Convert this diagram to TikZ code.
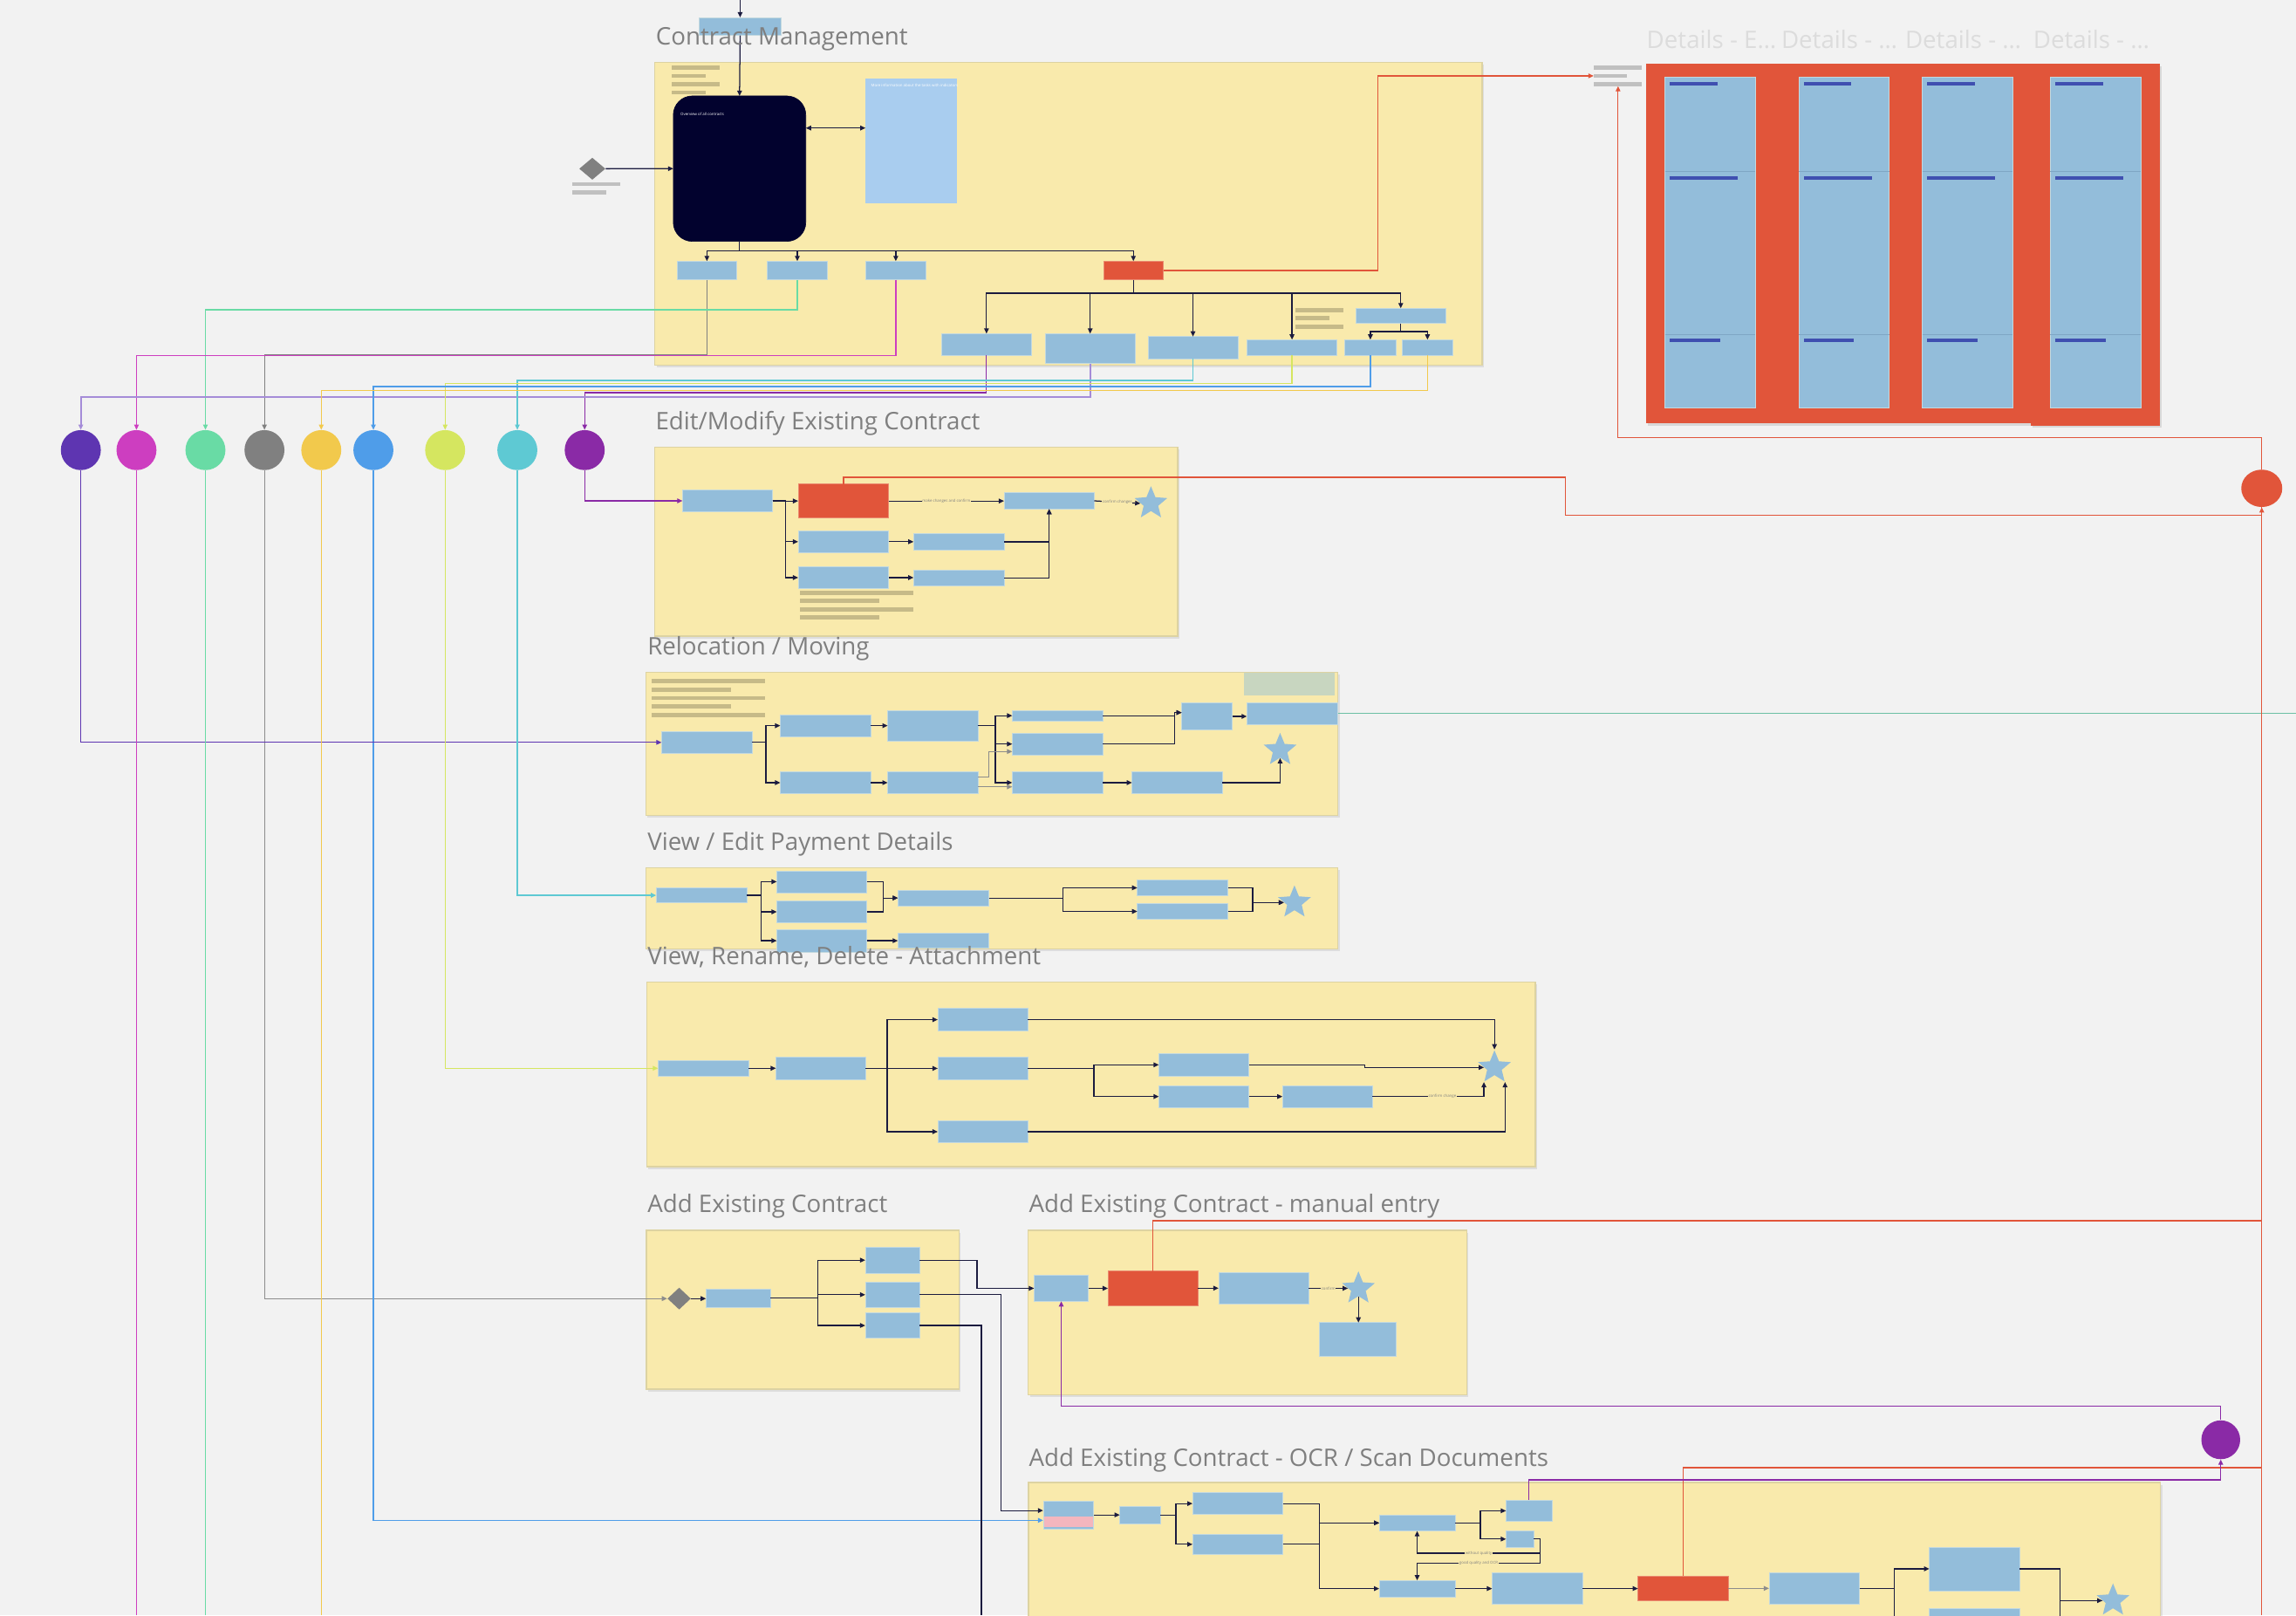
\documentclass[tikz,border=0pt]{standalone}
\usepackage{fontspec}
\setmainfont{Open Sans}
\usetikzlibrary{shapes.geometric,arrows.meta,shadows,calc}
\definecolor{bgc}{HTML}{F2F2F2}
\definecolor{frY}{HTML}{F9EAAC}
\definecolor{frE}{HTML}{DDD3A2}
\definecolor{boxB}{HTML}{93BDDA}
\definecolor{boxE}{HTML}{C3D9DF}
\definecolor{redB}{HTML}{E1553A}
\definecolor{redE}{HTML}{EA8A70}
\definecolor{darkB}{HTML}{02022E}
\definecolor{noteB}{HTML}{A9CDEF}
\definecolor{oliveC}{HTML}{C6BA88}
\definecolor{grayBar}{HTML}{C0C0C0}
\definecolor{lnD}{HTML}{1B1B3F}
\definecolor{cA}{HTML}{5E35B1}
\definecolor{cAl}{HTML}{A58CD8}
\definecolor{cB}{HTML}{CD3EC0}
\definecolor{cC}{HTML}{69DBA5}
\definecolor{cD}{HTML}{808080}
\definecolor{cE}{HTML}{F2C94C}
\definecolor{cF}{HTML}{4F9DE9}
\definecolor{cG}{HTML}{D5E660}
\definecolor{cH}{HTML}{5EC9D3}
\definecolor{cI}{HTML}{8A2AA6}
\definecolor{tealL}{HTML}{6CBFA4}
\definecolor{dtl}{HTML}{DCDCDC}
\definecolor{ttlC}{HTML}{7F7F7F}
\definecolor{hdr}{HTML}{3F4FB0}
\definecolor{noteG}{HTML}{C8D6C0}
\definecolor{pinkB}{HTML}{F4B6BE}
\definecolor{gline}{HTML}{8C8C8C}
\definecolor{divL}{HTML}{7FA6C4}
\newcommand\bx[6]{%
\pgfmathsetmacro\bxcx{(#2+#4)/2}%
\pgfmathsetmacro\bxcy{(#3+#5)/2}%
\pgfmathsetmacro\bxw{#4-#2}%
\pgfmathsetmacro\bxh{#5-#3}%
\node[#6,minimum width=\bxw pt,minimum height=\bxh pt] (#1) at (\bxcx,\bxcy) {};}
\begin{document}
\begin{tikzpicture}[x=1pt,y=-1pt,
 box/.style={rectangle,inner sep=0pt,outer sep=0pt,fill=boxB,draw=boxE,line width=0.35pt},
 rbox/.style={box,fill=redB,draw=redE},
 frm/.style={rectangle,inner sep=0pt,outer sep=0pt,fill=frY,draw=frE,line width=0.9pt,drop shadow={shadow xshift=1.2pt,shadow yshift=-1.6pt,opacity=0.18}},
 dpan/.style={rectangle,inner sep=0pt,outer sep=0pt,fill=redB,draw=none,drop shadow={shadow xshift=1.2pt,shadow yshift=-1.6pt,opacity=0.22}},
 olive/.style={rectangle,inner sep=0pt,outer sep=0pt,fill=oliveC,draw=none},
 gbar/.style={rectangle,inner sep=0pt,outer sep=0pt,fill=grayBar,draw=none},
 hbar/.style={rectangle,inner sep=0pt,outer sep=0pt,fill=hdr,draw=none},
 ln/.style={draw=lnD,line width=0.75pt},
 arr/.style={ln,-{Triangle[length=3.6pt,width=3.2pt]}},
 garr/.style={draw=gline,line width=0.75pt,-{Triangle[length=3.6pt,width=3.2pt]}},
 darr/.style={ln,{Triangle[length=3.6pt,width=3.2pt]}-{Triangle[length=3.6pt,width=3.2pt]}},
 carr/.style={draw=#1,line width=0.75pt,-{Triangle[length=3.6pt,width=3.2pt]}},
 cln/.style={draw=#1,line width=0.75pt},
 circ/.style={circle,minimum size=27.3pt,inner sep=0pt,draw=none,fill=#1},
 strs/.style={star,star points=5,star point ratio=2.25,minimum size=23.5pt,inner sep=0pt,fill=boxB,draw=none},
 dia/.style={diamond,inner sep=0pt,fill=cD,draw=none},
 ttl/.style={font=\fontsize{16.5}{18}\selectfont,text=ttlC,anchor=west,inner sep=0pt},
 dttl/.style={font=\fontsize{16.5}{18}\selectfont,text=dtl,anchor=west,inner sep=0pt},
 lbl/.style={font=\fontsize{2.6}{3}\selectfont,text=ttlC,fill=frY,inner sep=0.4pt},
 wtxt/.style={font=\fontsize{2.6}{3}\selectfont,text=white,anchor=north west,inner sep=0pt}
]
\fill[bgc] (0,0) rectangle (1568,1103);
\useasboundingbox (0,0) rectangle (1568,1103);

% ---------------- frames ----------------
\bx{fr1}{447.2}{42.7}{1012.3}{249.2}{frm}
\bx{fr2}{447.2}{305.2}{804.2}{434.3}{frm}
\bx{fr3}{441.1}{459.1}{913.6}{556.8}{frm}
\bx{fr4}{441.1}{592.6}{913.6}{647.8}{frm}
\bx{fr5}{441.6}{670.4}{1048.6}{796.5}{frm}
\bx{fr6}{441.4}{840}{655}{948.4}{frm}
\bx{fr7}{702.2}{840}{1001.6}{952.2}{frm}
\bx{fr8}{702.5}{1012.3}{1475.4}{1125}{frm}

% ---------------- details panels ----------------
\bx{dp1}{1124.4}{43.5}{1216.3}{289}{dpan}
\bx{dp2}{1216.3}{43.5}{1300.2}{289}{dpan}
\bx{dp3}{1300.2}{43.5}{1387.1}{289}{dpan}
\bx{dp4}{1387.1}{43.5}{1475.3}{290.5}{dpan}
\bx{db1}{1137}{52.4}{1198.6}{278.2}{box}
\bx{db2}{1228.4}{52.4}{1290.1}{278.2}{box}
\bx{db3}{1312.8}{52.4}{1374.5}{278.2}{box}
\bx{db4}{1400.2}{52.4}{1461.9}{278.2}{box}
\foreach \nm in {db1,db2,db3,db4}{
  \draw[divL,line width=0.4pt] (\nm.west |- 0,116.8) -- (\nm.east |- 0,116.8);
  \draw[divL,line width=0.4pt] (\nm.west |- 0,228.2) -- (\nm.east |- 0,228.2);
  \fill[hdr] ([xshift=3.3pt]\nm.west |- 0,56) rectangle ++(32.7,2.6);
  \fill[hdr] ([xshift=3.3pt]\nm.west |- 0,120.3) rectangle ++(46.6,2.6);
  \fill[hdr] ([xshift=3.3pt]\nm.west |- 0,231) rectangle ++(34.5,2.6);
}
\bx{gb1}{1088.3}{44.9}{1121.1}{47.5}{gbar}
\bx{gb2}{1088.3}{50.4}{1111.3}{53.2}{gbar}
\bx{gb3}{1088.3}{56.2}{1121.1}{58.8}{gbar}

% ---------------- frame 1 ----------------
\bx{T0}{477.4}{11.9}{533.5}{24.2}{box}
\coordinate (top0) at (505.45,0);
\bx{dark}{459.8}{65.5}{550.3}{164.8}{box,fill=darkB,draw=darkB,rounded corners=13pt}
\bx{note}{591.1}{54}{653}{138.6}{box,fill=noteB,draw=noteB}
\node[wtxt] at (464.6,76.5) {Overview of all contracts};
\node[wtxt] at (594.7,57.3) {More information about the tasks with indicators};
\foreach \yy/\xx in {44.7/491.4,50.4/481.8,56/491.4,61.8/481.8}{
  \fill[oliveC] (458.7,\yy) rectangle (\xx,\yy+2.8);
}
\node[dia,minimum width=17.9pt,minimum height=15.1pt] (D0) at (404.5,115.2) {};
\bx{gl1}{390.8}{124.3}{423.6}{127.1}{gbar}
\bx{gl2}{390.8}{130.1}{413.8}{132.8}{gbar}
\bx{A}{462.4}{178.3}{503.1}{191}{box}
\bx{B}{524}{178.3}{565}{191}{box}
\bx{C}{591.4}{178.3}{632.1}{191}{box}
\bx{D}{753.5}{178.3}{794.5}{191}{rbox}
\bx{E}{643.1}{227.8}{704.3}{242.7}{box}
\bx{F}{713.9}{227.8}{775.1}{248.2}{box}
\bx{G}{783.9}{229.8}{845.5}{244.8}{box}
\bx{H}{851.7}{231.9}{913}{242.7}{box}
\bx{I}{925.8}{210.5}{987.4}{220.8}{box}
\bx{J}{918.4}{231.9}{953.3}{242.7}{box}
\bx{K}{957.6}{231.9}{992.1}{242.7}{box}
\foreach \yy/\xx in {210.3/917.7,215.9/907.8,221.6/917.7}{
  \fill[oliveC] (884.7,\yy) rectangle (\xx,\yy+2.7);
}

\draw[arr] (top0) -- (T0.north);
\draw[arr] (T0.south) -- (dark.north);
\draw[arr] (D0.east) -- (dark.west);
\draw[darr] ([yshift=27.75pt]dark.east) -- ([yshift=27.75pt]dark.east -| note.west);
\draw[ln] (dark.south) -- ++(0,6.4) coordinate (j1);
\foreach \nm in {A,B,C,D}{ \draw[arr] (j1) -| (\nm.north); }
\draw[ln] (D.south) -- ++(0,9.2) coordinate (j2);
\foreach \nm in {E,F,G,H,I}{ \draw[arr] (j2) -| (\nm.north); }
\draw[ln] (I.south) -- ++(0,5.6) coordinate (j3);
\draw[arr] (j3) -| (J.north);
\draw[arr] (j3) -| (K.north);
\draw[draw=redB,line width=0.75pt,-{Triangle[length=3.6pt,width=3.2pt]}] (D.east) -| ([xshift=-147.5pt]gb2.west) -- (gb2.west);

% ---------------- circles ----------------
\node[circ=cA] (C1) at (55.2,307.3) {};
\node[circ=cB] (C2) at (93.2,307.3) {};
\node[circ=cC] (C3) at (140.3,307.3) {};
\node[circ=cD] (C4) at (180.6,307.3) {};
\node[circ=cE] (C5) at (219.4,307.3) {};
\node[circ=cF] (C6) at (255,307.3) {};
\node[circ=cG] (C7) at (304,307.3) {};
\node[circ=cH] (C8) at (353.3,307.3) {};
\node[circ=cI] (C9) at (399.3,307.3) {};
\node[ellipse,minimum width=28pt,minimum height=25.5pt,inner sep=0pt,fill=redB] (RC) at (1544.6,333.4) {};
\node[circle,minimum size=26.5pt,inner sep=0pt,fill=cI] (PC) at (1516.6,983) {};

\draw[carr=cD] (A.south) |- (180.6,242) -- (C4.north);
\draw[carr=cC] (B.south) |- (140.3,211.5) -- (C3.north);
\draw[carr=cB] (C.south) |- (93.2,242.7) -- (C2.north);
\draw[carr=cI] (E.south) |- (399.3,268.1) -- (C9.north);
\draw[draw=cAl,line width=1.2pt,-{Triangle[length=3.6pt,width=3.2pt]}] (F.south) |- (55.2,271.1) -- (C1.north);
\draw[carr=cH] (G.south) |- (353.3,259.7) -- (C8.north);
\draw[carr=cG] (H.south) |- (304,261.7) -- (C7.north);
\draw[carr=cF] (J.south) |- (255,263.9) -- (C6.north);
\draw[carr=cE] (K.south) |- (219.4,266.7) -- (C5.north);

% ---------------- frame 2: edit/modify ----------------
\bx{EE}{466.1}{334.4}{527.6}{349.5}{box}
\bx{ER}{545.1}{330.4}{606.9}{353.7}{rbox}
\bx{EB2}{545.1}{362.4}{606.9}{377.3}{box}
\bx{EB3}{545.1}{386.8}{606.9}{401.9}{box}
\bx{E4}{623.9}{364.4}{685.7}{375.5}{box}
\bx{E5}{623.9}{389}{685.7}{400.1}{box}
\bx{E6}{685.7}{336.4}{747.3}{347.5}{box}
\node[strs] (ES) at (786,343.7) {};
\foreach \yy/\xx in {403.3/623.9,408.9/600.5,414.6/623.9,420.2/600.5}{
  \fill[oliveC] (546.3,\yy) rectangle (\xx,\yy+3);
}
\draw[arr] (EE.east) -- ++(8.8,0) |- (ER.west);
\draw[arr] (EE.east) -- ++(8.8,0) |- (EB2.west);
\draw[arr] (EE.east) -- ++(8.8,0) |- (EB3.west);
\draw[arr] (ER.east) -- (ER.east -| E6.west) node[midway,lbl] {make changes and confirm};
\draw[arr] (EB2.east) -- (EB2.east -| E4.west);
\draw[arr] (EB3.east) -- (EB3.east -| E5.west);
\draw[arr] (E4.east) -| (E6.south);
\draw[arr] (E5.east) -| (E6.south);
\draw[arr] (E6.east) -- (ES.west) node[midway,lbl] {confirm changes};

% ---------------- frame 3: relocation ----------------
\foreach \yy/\xx in {463.7/522.3,469.4/499.3,475.2/522.3,480.9/499.3,486.7/522.3}{
  \fill[oliveC] (445.1,\yy) rectangle (\xx,\yy+2.8);
}
\bx{RN}{849.4}{459.6}{911.2}{474.4}{box,fill=noteG,draw=noteG}
\bx{R1}{451.8}{499.2}{513.5}{514.5}{box}
\bx{R2}{532.9}{487.9}{594.7}{503}{box}
\bx{R3}{532.9}{526.8}{594.7}{541.9}{box}
\bx{R4}{606.2}{484.9}{667.7}{506}{box}
\bx{R5}{606.2}{526.8}{667.7}{541.9}{box}
\bx{R6}{691.3}{484.9}{753.1}{492.3}{box}
\bx{R7}{691.3}{500.4}{753.1}{515.5}{box}
\bx{R8}{691.3}{526.8}{753.1}{541.9}{box}
\bx{R9}{773.1}{526.8}{834.9}{541.9}{box}
\bx{R10}{807}{479.8}{841.5}{498.4}{box}
\bx{R11}{851.5}{479.8}{913.6}{494.5}{box}
\node[strs] (RS) at (874.2,512.1) {};
\draw[arr] (R1.east) -- ++(9.5,0) |- (R2.west);
\draw[arr] (R1.east) -- ++(9.5,0) |- (R3.west);
\draw[arr] (R2.east) -- (R2.east -| R4.west);
\draw[arr] (R3.east) -- (R3.east -| R5.west);
\draw[arr] (R4.east) -- ++(12.1,0) |- (R6.west);
\draw[arr] (R4.east) -- ++(12.1,0) |- (R7.west);
\draw[arr] (R4.east) -- ++(12.1,0) |- (R8.west);
\draw[garr] ([yshift=3.75pt]R5.east) -- ++(7.6,0) |- ([yshift=-5.15pt]R7.west);
\draw[garr] ([yshift=-2.85pt]R5.east) -- ([yshift=-2.85pt]R5.east -| R8.west);
\draw[arr] (R6.east) -- ++(49.1,0) |- ([yshift=2.6pt]R10.west);
\draw[arr] (R7.east) -- ++(49.1,0) |- ([yshift=2.6pt]R10.west);
\draw[arr] (R10.east) -- (R10.east -| R11.west);
\draw[arr] (R8.east) -- (R8.east -| R9.west);
\draw[arr] (R9.east) -| (RS.south);
\draw[draw=tealL,line width=0.75pt] (R11.east) -- ++(654.4,0);

% ---------------- frame 4: payment ----------------
\bx{P1}{448.1}{606.1}{509.9}{616.4}{box}
\bx{P2}{530.5}{594.5}{592}{609.4}{box}
\bx{P3}{530.5}{615}{592}{630.1}{box}
\bx{P4}{530.5}{634.5}{592}{650}{box}
\bx{P5}{613.2}{607.6}{675.3}{618.6}{box}
\bx{P6}{613.2}{636.8}{675.3}{647.2}{box}
\bx{P7}{776.7}{600.7}{838.5}{611.6}{box}
\bx{P8}{776.7}{616.8}{838.5}{627.7}{box}
\node[strs] (PS) at (884,616.2) {};
\draw[arr] (P1.east) -- ++(10,0) |- (P2.west);
\draw[arr] (P1.east) -- ++(10,0) |- (P3.west);
\draw[arr] (P1.east) -- ++(10,0) |- (P4.west);
\draw[arr] (P2.east) -- ++(11.2,0) |- (P5.west);
\draw[arr] (P3.east) -- ++(11.2,0) |- (P5.west);
\draw[arr] (P4.east) -- (P4.east -| P6.west);
\draw[arr] (P5.east) -- ++(50.5,0) |- (P7.west);
\draw[arr] (P5.east) -- ++(50.5,0) |- (P8.west);
\draw[arr] (P7.east) -- ++(17,0) |- (PS.west);
\draw[arr] (P8.east) -- ++(17,0) |- (PS.west);

% ---------------- frame 5: attachment ----------------
\bx{A1}{449.4}{724.2}{511.3}{734.5}{box}
\bx{A2}{529.9}{721.8}{591}{737.1}{box}
\bx{A3}{640.4}{688.5}{701.9}{703.8}{box}
\bx{A4}{640.4}{721.8}{701.9}{737.1}{box}
\bx{A5}{640.4}{765.1}{701.9}{780.2}{box}
\bx{A6}{791.4}{719.5}{852.9}{734.5}{box}
\bx{A7}{791.4}{741.1}{852.9}{756.2}{box}
\bx{A8}{875.8}{741.1}{937.3}{756.2}{box}
\node[strs] (AS) at (1020.6,728.8) {};
\draw[arr] (A1.east) -- (A1.east -| A2.west);
\draw[arr] (A2.east) -- ++(14.8,0) |- (A3.west);
\draw[arr] (A2.east) -- ++(14.8,0) |- (A4.west);
\draw[arr] (A2.east) -- ++(14.8,0) |- (A5.west);
\draw[arr] (A3.east) -| (AS.north);
\draw[arr] (A4.east) -- ++(45.2,0) |- (A6.west);
\draw[arr] (A4.east) -- ++(45.2,0) |- (A7.west);
\draw[arr] (A6.east) -- ++(79,0) |- (AS.west);
\draw[arr] (A7.east) -- (A7.east -| A8.west);
\draw[arr] (A8.east) -| (AS.outer point 3);
\node[lbl] at (985,748.65) {confirm change};
\draw[arr] (A5.east) -| (AS.outer point 4);

% ---------------- frame 6: add existing ----------------
\node[dia,minimum width=16pt,minimum height=15pt] (Dx) at (463.8,886.6) {};
\bx{X1}{482.1}{880.1}{526.1}{892.6}{box}
\bx{X2}{590.9}{851.5}{628}{869.2}{box}
\bx{X3}{590.9}{875.1}{628}{892.8}{box}
\bx{X4}{590.9}{896.2}{628}{913.7}{box}
\draw[draw=gline,line width=0.75pt,-{Triangle[length=3.6pt,width=3.2pt]}] (C4.south) |- (Dx.west);
\draw[arr] (Dx.east) -- (Dx.east -| X1.west);
\draw[arr] (X1.east) -- ++(32.4,0) |- (X2.west);
\draw[arr] (X1.east) -- ++(32.4,0) |- (X3.west);
\draw[arr] (X1.east) -- ++(32.4,0) |- (X4.west);

% ---------------- frame 7: manual entry ----------------
\bx{M1}{706.2}{870.8}{743.3}{888.4}{box}
\bx{M2}{756.6}{867.8}{818.2}{891.2}{rbox}
\bx{M3}{832.2}{869}{893.8}{890.2}{box}
\node[strs] (MS) at (927.7,879.7) {};
\bx{M4}{900.7}{903}{953.6}{925.8}{box}
\draw[arr] (X2.east) -- ++(39.3,0) |- (M1.west);
\draw[arr] (M1.east) -- (M1.east -| M2.west);
\draw[arr] (M2.east) -- (M2.east -| M3.west);
\draw[arr] (M3.east) -- (M3.east -| MS.west) node[midway,lbl] {confirm};
\draw[arr] (MS.south) -- (MS.south |- M4.north);

% ---------------- frame 8: OCR ----------------
\bx{O1}{712.4}{1024.9}{746.8}{1043.7}{box}
\fill[pinkB] (713,1035.6) rectangle (746.2,1042.5);
\bx{O2}{764.7}{1028.6}{792.6}{1040.3}{box}
\bx{O3}{814.4}{1019.1}{876.1}{1034}{box}
\bx{O4}{814.4}{1047.3}{876.1}{1061.4}{box}
\bx{O5}{941.9}{1034.2}{993.6}{1045.3}{box}
\bx{O6}{1028.5}{1024.1}{1059.8}{1038.8}{box}
\bx{O7}{1028.5}{1045.3}{1047.4}{1056.2}{box}
\bx{O8}{941.9}{1079}{993.6}{1090.2}{box}
\bx{O9}{1019}{1073.7}{1080.7}{1095.4}{box}
\bx{O10}{1118.6}{1076.1}{1180.3}{1092.8}{rbox}
\bx{O11}{1208.1}{1073.7}{1269.9}{1095.4}{box}
\bx{O12}{1317.6}{1056.2}{1379.4}{1086}{box}
\bx{O13}{1317.6}{1098}{1379.4}{1115}{box}
\node[strs] (OS) at (1443,1092.8) {};
\draw[arr] (X3.east) -- ++(55.5,0) |- ([yshift=3pt]O1.west);
\draw[carr=cF] (C6.south) |- ([yshift=-3.7pt]O1.west);
\draw[ln] (X4.east) -| (670.2,1103);
\draw[arr] (O1.east) -- (O1.east -| O2.west);
\draw[arr] (O2.east) -- ++(10.4,0) |- (O3.west);
\draw[arr] (O2.east) -- ++(10.4,0) |- (O4.west);
\draw[arr] (O3.east) -- ++(25,0) |- (O5.west);
\draw[arr] (O4.east) -- ++(25,0) |- (O5.west);
\draw[arr] (O4.east) -- ++(25,0) |- (O8.west);
\draw[arr] (O5.east) -- ++(17.4,0) |- (O6.west);
\draw[arr] (O5.east) -- ++(17.4,0) |- (O7.west);
\coordinate (q1) at (1051.8,1050.75);
\coordinate (q2) at (1051.8,1060.4);
\coordinate (q3) at (967.8,1060.4);
\coordinate (q4) at (1051.8,1067.4);
\coordinate (q5) at (967.8,1067.4);
\draw[arr] (O7.east) -- (q1) -- (q2) -- (q3) node[midway,lbl] {without quality} -- (q3 |- O5.south);
\draw[arr] (q2) -- (q4) -- (q5) node[midway,lbl] {good quality and OCR} -- (q5 |- O8.north);
\draw[arr] (O8.east) -- (O8.east -| O9.west);
\draw[arr] (O9.east) -- (O9.east -| O10.west);
\draw[garr] (O10.east) -- (O10.east -| O11.west);
\draw[arr] (O11.east) -- ++(23.9,0) |- (O12.west);
\draw[arr] (O11.east) -- ++(23.9,0) |- (O13.west);
\draw[arr] (O12.east) -- ++(27.3,0) |- (OS.west);
\draw[ln] (O13.east) -- ++(27.3,0) |- (OS.west);

% ---------------- long colored lines ----------------
\draw[carr=cA] (C1.south) |- (R1.west);
\draw[cln=cB] (C2.south) -- (93.2,1103);
\draw[cln=cC] (C3.south) -- (140.3,1103);
\draw[cln=cE] (C5.south) -- (219.4,1103);
\draw[carr=cG] (C7.south) |- (A1.west);
\draw[carr=cH] (C8.south) |- (P1.west);
\draw[carr=cI] (C9.south) |- (EE.west);

% red links
\coordinate (rq) at (1105,298.8);
\draw[draw=redB,line width=0.75pt,-{Triangle[length=3.6pt,width=3.2pt]}] (RC.north) |- (rq) -- (rq |- gb3.south);
\coordinate (e1) at (1069,325.9);
\coordinate (e2) at (1069,351.7);
\draw[draw=redB,line width=0.75pt,-{Triangle[length=3.6pt,width=3.2pt]}] (ER.north) |- (e1) -- (e2) -| (RC.south);
\draw[draw=redB,line width=0.75pt] (RC.south) -- (1544.6,1103);
\draw[draw=redB,line width=0.75pt] (M2.north) |- (1544.6,833.4);
\draw[draw=redB,line width=0.75pt] (O10.north) |- (1544.6,1002);
% purple links
\coordinate (pq) at (724.75,960.1);
\draw[draw=cI,line width=0.75pt,-{Triangle[length=3.6pt,width=3.2pt]}] (PC.north) |- (pq) -- (M1.south);
\coordinate (pr) at (1516.6,1010.4);
\draw[draw=cI,line width=0.75pt,-{Triangle[length=3.6pt,width=3.2pt]}] (O6.north) |- (pr) -- (PC.south);

% ---------------- titles ----------------
\node[ttl] at (447.7,26.8) {Contract Management};
\node[ttl] at (447.5,289) {Edit/Modify Existing Contract};
\node[ttl] at (442,443) {Relocation / Moving};
\node[ttl] at (442,576) {View / Edit Payment Details};
\node[ttl] at (442,653.5) {View, Rename, Delete - Attachment};
\node[ttl] at (442,823.5) {Add Existing Contract};
\node[ttl] at (702.5,823.5) {Add Existing Contract - manual entry};
\node[ttl] at (702.5,996.8) {Add Existing Contract - OCR / Scan Documents};
\node[dttl] at (1124.4,27) {Details - E…};
\node[dttl] at (1216.3,27) {Details - …};
\node[dttl] at (1300.9,27) {Details - …};
\node[dttl] at (1388.4,27) {Details - …};
\end{tikzpicture}
\end{document}
